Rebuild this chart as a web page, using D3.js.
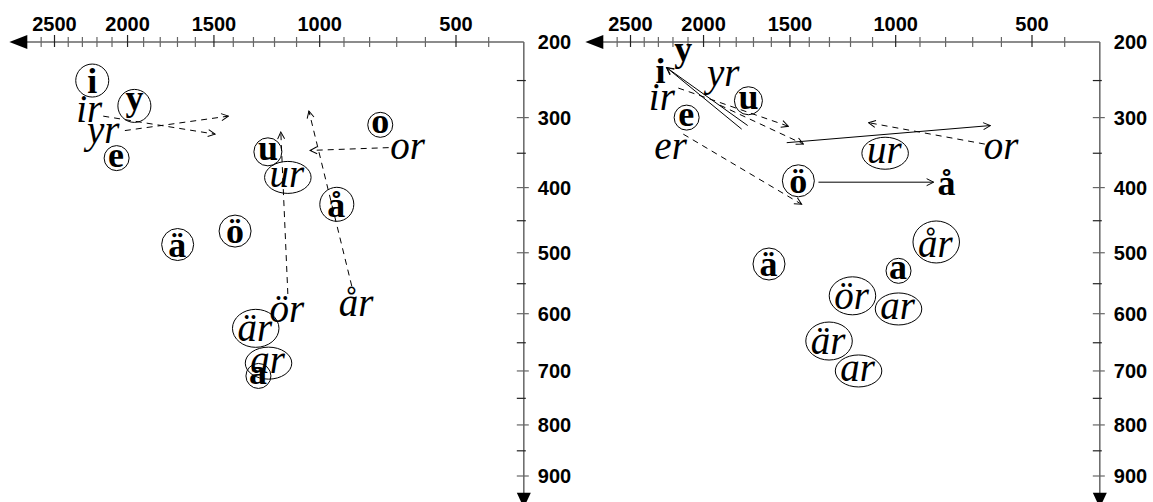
<!DOCTYPE html>
<html>
<head>
<meta charset="utf-8">
<script src="https://cdn.jsdelivr.net/npm/d3@7"></script>
<style>
  body { margin: 0; background: #fff; }
  svg { display: block; }
</style>
</head>
<body>
<svg id="chart" width="1153" height="502"></svg>
<script>
"use strict";

// axis values (Hz)
var f2Ticks = [2500, 2000, 1500, 1000, 500];
var f2MinorTicks = [400, 600, 700, 800, 900, 1100, 1200, 1300, 1400, 1600, 1700, 1800, 1900,
  2100, 2200, 2300, 2400, 2600];
var f1Ticks = [200, 300, 400, 500, 600, 700, 800, 900];
var f1MinorTicks = [250, 350, 450, 550, 650, 750, 850];
var F2_START = 300, F2_END = 2850;
var F1_START = 200, F1_END = 965;

// vowels: [label, F2, F1, circled]
var leftVowels = [
  ["i", 2232, 250, true],
  ["y", 1957, 284, true],
  ["e", 2070, 357, true],
  ["u", 1231, 348, true],
  ["o", 760, 310, true],
  ["å", 929, 425, true],
  ["ö", 1391, 466, true],
  ["ä", 1699, 487, true],
  ["a", 1276, 709, true]
];
var leftRVowels = [
  ["ir", 2243, 288, false],
  ["yr", 2169, 328, false],
  ["ur", 1139, 385, true],
  ["or", 658, 344, false],
  ["år", 849, 578, false],
  ["ör", 1139, 592, false],
  ["är", 1289, 625, true],
  ["ar", 1228, 686, true]
];
// arrows: [F2 from, F1 from, F2 to, F1 to, dashed]
var leftArrows = [
  [2158, 298, 1494, 323, true],
  [2017, 318, 1425, 298, true],
  [1139, 567, 1171, 320, true],
  [869, 554, 1046, 291, true],
  [729, 342, 1041, 346, true]
];

var rightVowels = [
  ["i", 2285, 237, false],
  ["y", 2131, 218, false],
  ["u", 1729, 277, true],
  ["e", 2109, 300, true],
  ["ö", 1456, 390, true],
  ["ä", 1613, 518, true],
  ["a", 988, 529, true],
  ["å", 795, 392, false]
];
var rightRVowels = [
  ["ir", 2266, 272, false],
  ["yr", 1888, 250, false],
  ["er", 2210, 344, false],
  ["or", 598, 344, false],
  ["ur", 1045, 350, true],
  ["år", 836, 483, true],
  ["ör", 1191, 570, true],
  ["ar", 988, 592, true],
  ["är", 1302, 647, true],
  ["ar", 1163, 700, true]
];
var rightArrows = [
  [1768, 316, 2243, 233, false],
  [1733, 311, 2243, 233, false],
  [2164, 260, 1508, 312, true],
  [1898, 283, 1430, 337, true],
  [1517, 335, 638, 311, false],
  [657, 337, 1118, 307, true],
  [2131, 323, 1439, 425, true],
  [1354, 392, 846, 392, false]
];

var svg = d3.select("#chart");
var x = d3.scaleSymlog().constant(1000).domain([2500, 500]).range([54.5, 456]);
var y = d3.scaleSymlog().constant(1000).domain([200, 900]).range([42, 476]);

var boldFont = "bold 36px 'Liberation Serif'";
var italicFont = "italic 39px 'Liberation Serif'";
var tickFont = "bold 20px 'Liberation Sans'";
var axisColor = "#666";

var ctx = document.createElement("canvas").getContext("2d");
function glyphBox(text, font) {
  ctx.font = font;
  var m = ctx.measureText(text);
  return {
    l: m.actualBoundingBoxLeft, r: m.actualBoundingBoxRight,
    a: m.actualBoundingBoxAscent, d: m.actualBoundingBoxDescent
  };
}

var defs = svg.append("defs");
defs.append("marker")
  .attr("id", "openHead")
  .attr("viewBox", "-9 -5 10 10")
  .attr("refX", 0).attr("refY", 0)
  .attr("markerWidth", 10).attr("markerHeight", 10)
  .attr("markerUnits", "userSpaceOnUse")
  .attr("orient", "auto")
  .append("path")
  .attr("d", "M-7,-3.5L0,0L-7,3.5")
  .attr("fill", "none")
  .attr("stroke", "#000")
  .attr("stroke-width", 1);

function drawAxes(g) {
  var x0 = x(F2_START), y0 = y(F1_START);
  var xEnd = x(F2_END), yEnd = y(F1_END);

  g.append("line").attr("x1", xEnd + 10).attr("x2", x0)
    .attr("y1", y0).attr("y2", y0)
    .style("stroke", axisColor).style("stroke-width", 1.5);
  g.append("line").attr("x1", x0).attr("x2", x0)
    .attr("y1", y0).attr("y2", yEnd - 10)
    .style("stroke", axisColor).style("stroke-width", 1.5);

  // arrow heads
  g.append("path")
    .attr("d", "M" + xEnd + "," + y0 + "L" + (xEnd + 18) + "," + (y0 - 7) + "L" + (xEnd + 18) + "," + (y0 + 7) + "Z")
    .style("fill", "#000");
  g.append("path")
    .attr("d", "M" + x0 + "," + yEnd + "L" + (x0 - 7) + "," + (yEnd - 15) + "L" + (x0 + 7) + "," + (yEnd - 15) + "Z")
    .style("fill", "#000");

  g.selectAll("line.f2minor").data(f2MinorTicks).enter().append("line")
    .attr("class", "f2minor")
    .attr("x1", function (d) { return x(d); }).attr("x2", function (d) { return x(d); })
    .attr("y1", y0 - 5).attr("y2", y0 + 5)
    .style("stroke", axisColor).style("stroke-width", 1.2);
  g.selectAll("line.f2major").data(f2Ticks).enter().append("line")
    .attr("class", "f2major")
    .attr("x1", function (d) { return x(d); }).attr("x2", function (d) { return x(d); })
    .attr("y1", y0 - 7).attr("y2", y0 + 5)
    .style("stroke", "#222").style("stroke-width", 1.2);
  g.selectAll("text.f2lab").data(f2Ticks).enter().append("text")
    .attr("class", "f2lab")
    .attr("x", function (d) { return x(d); })
    .attr("y", y0 - 11)
    .attr("text-anchor", "middle")
    .style("font", tickFont)
    .text(function (d) { return d; });

  g.selectAll("line.f1minor").data(f1MinorTicks).enter().append("line")
    .attr("class", "f1minor")
    .attr("x1", x0 - 7).attr("x2", x0 + 2)
    .attr("y1", function (d) { return y(d); }).attr("y2", function (d) { return y(d); })
    .style("stroke", "#222").style("stroke-width", 1.2);
  g.selectAll("line.f1major").data(f1Ticks.slice(1)).enter().append("line")
    .attr("class", "f1major")
    .attr("x1", x0 - 7).attr("x2", x0 + 5)
    .attr("y1", function (d) { return y(d); }).attr("y2", function (d) { return y(d); })
    .style("stroke", axisColor).style("stroke-width", 1.2);
  g.selectAll("text.f1lab").data(f1Ticks).enter().append("text")
    .attr("class", "f1lab")
    .attr("x", x0 + 14)
    .attr("y", function (d) { return y(d); })
    .attr("dy", "0.35em")
    .style("font", tickFont)
    .text(function (d) { return d; });
}

function drawLabels(g, rows, font, isEllipse) {
  rows.forEach(function (r) {
    var b = glyphBox(r[0], font);
    var cx = x(r[1]), cy = y(r[2]);
    var w = b.l + b.r, h = b.a + b.d;
    g.append("text")
      .attr("x", cx - (b.r - b.l) / 2)
      .attr("y", cy - (b.d - b.a) / 2)
      .style("font", font)
      .style("fill", "#000")
      .text(r[0]);
    if (!r[3]) return;
    if (isEllipse) {
      g.append("ellipse")
        .attr("cx", cx).attr("cy", cy)
        .attr("rx", w / 2 + 6).attr("ry", h / 2 + 6)
        .style("fill", "none").style("stroke", "#000").style("stroke-width", 1);
    } else {
      g.append("circle")
        .attr("cx", cx).attr("cy", cy)
        .attr("r", Math.max(w, h) / 2 + 4)
        .style("fill", "none").style("stroke", "#000").style("stroke-width", 1);
    }
  });
}

function drawArrows(g, rows) {
  g.selectAll("line.arrow").data(rows).enter().append("line")
    .attr("class", "arrow")
    .attr("x1", function (d) { return x(d[0]); })
    .attr("y1", function (d) { return y(d[1]); })
    .attr("x2", function (d) { return x(d[2]); })
    .attr("y2", function (d) { return y(d[3]); })
    .attr("stroke-dasharray", function (d) { return d[4] ? "6,5" : null; })
    .style("stroke", "#000")
    .style("stroke-width", 1)
    .attr("marker-end", "url(#openHead)");
}

function drawPanel(offset, vowels, rVowels, arrows) {
  var g = svg.append("g").attr("transform", "translate(" + offset + ",0)");
  drawAxes(g);
  drawArrows(g, arrows);
  drawLabels(g, rVowels, italicFont, true);
  drawLabels(g, vowels, boldFont, false);
}

drawPanel(0, leftVowels, leftRVowels, leftArrows);
drawPanel(576, rightVowels, rightRVowels, rightArrows);
</script>
</body>
</html>
